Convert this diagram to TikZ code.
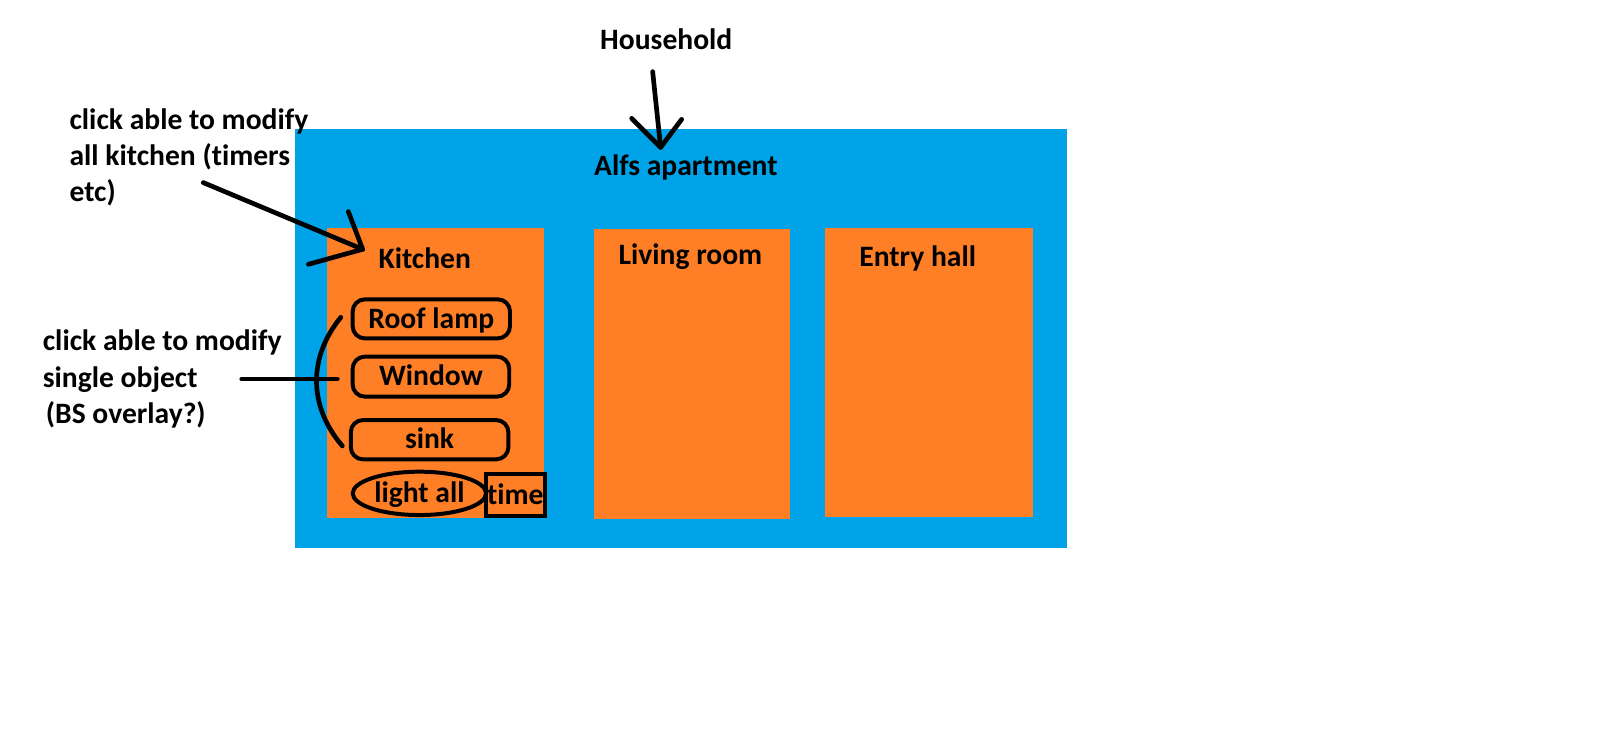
\documentclass[tikz,border=0pt]{standalone}
\usepackage{fontspec}
\setmainfont[Ligatures=NoCommon]{Carlito}
\usetikzlibrary{shapes.geometric}
\definecolor{paintblue}{RGB}{0,162,232}
\definecolor{paintorange}{RGB}{255,127,39}
\tikzset{
  lbl/.style={font=\fontsize{29}{35.5}\selectfont\bfseries, inner sep=0pt},
  note/.style={lbl, align=left, anchor=base west},
  pen/.style={line width=4.6pt, line cap=round, line join=round},
  item/.style={lbl, draw, line width=3.9pt, text height=18pt, text depth=0pt},
}
\begin{document}
\begin{tikzpicture}[x=1pt, y=-1pt]
\useasboundingbox (0,0) rectangle (1568,724.2);
% apartment and rooms
\fill[paintblue] (289,126) rectangle (1045.3,536.7);
\fill[paintorange] (320.5,223.5) rectangle (533,507.6);
\fill[paintorange] (582,224.4) rectangle (774,508.6);
\fill[paintorange] (808.5,223.4) rectangle (1012,506.7);
\node[lbl, anchor=base west] (household) at (588,49) {Household};
\node[lbl, anchor=base west] (apartment) at (582,172.2) {Alfs apartment};
\node[lbl, anchor=base west] (kitchen) at (370.8,263) {Kitchen};
\node[lbl, anchor=base west] (living) at (606,259.7) {Living room};
\node[lbl, anchor=base west] (entry) at (842,261.3) {Entry hall};
% kitchen objects
\node[item, rounded corners=12pt, minimum width=154.2pt, minimum height=38.3pt] (lamp) at (422.7,312.5) {Roof lamp};
\node[item, rounded corners=12pt, minimum width=153.5pt, minimum height=39.2pt] (window) at (422.3,369.1) {Window};
\node[item, rounded corners=12pt, minimum width=154.5pt, minimum height=38.5pt] (sink) at (421,430.9) {sink};
\node[item, ellipse, minimum width=130.7pt, minimum height=42.5pt] (lightall) at (411,483.5) {light all};
\node[item, minimum width=58pt, minimum height=41.2pt] (time) at (505,485.1) {time};
% notes (base = last line)
\node[note] (notekitchen) at (68,197.6) {click able to modify\\all kitchen (timers\\etc)};
\node[note] (noteobject) at (41.8,414.9) {click able to modify\\single object\\\hspace{3pt}(BS overlay?)};
% arrows
\coordinate (hhtail) at (639.6,70.2);
\coordinate (hhtip) at (647.4,144.4);
\coordinate (hhleft) at (619,116);
\coordinate (hhright) at (668,117);
\draw[pen] (hhtail) -- (hhtip);
\draw[pen] (hhleft) -- (hhtip) -- (hhright);
\coordinate (kttail) at (199.3,179);
\coordinate (kttip) at (355.4,244.3);
\coordinate (ktup) at (341.4,207.4);
\coordinate (ktlow) at (302.2,259);
\draw[pen] (kttail) -- (kttip);
\draw[pen] (ktup) -- (kttip) -- (ktlow);
\coordinate (objtail) at (236.9,371.4);
\coordinate (objend) at (330.6,371.4);
\coordinate (bracetop) at (334,311);
\coordinate (bracebot) at (335.5,437);
\draw[pen] (objtail) -- (objend);
\draw[pen] (bracetop) .. controls (302,350) and (302,398) .. (bracebot);
\end{tikzpicture}
\end{document}
